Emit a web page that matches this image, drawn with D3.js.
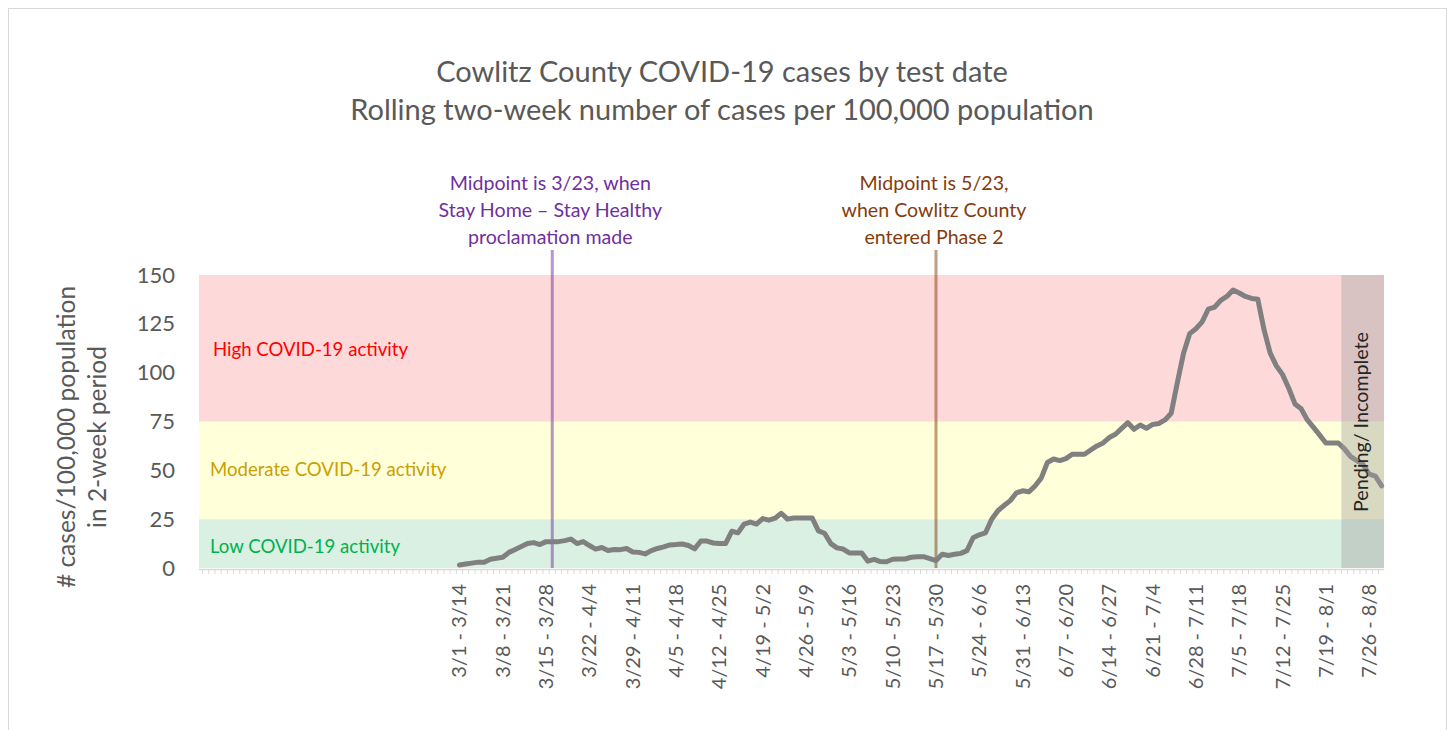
<!DOCTYPE html>
<html>
<head>
<meta charset="utf-8">
<script src="https://cdn.jsdelivr.net/npm/d3@7"></script>
<style>
  body { margin: 0; background: #fff; }
  text { font-family: Lato, "Open Sans", sans-serif; }
</style>
</head>
<body>
<svg id="chart"></svg>
<script>
// daily categories (rolling 14-day windows), labelled once a week
const dayCount = 191;
const firstLabelDay = 41;
const weekLabels = [
  "3/1 - 3/14", "3/8 - 3/21", "3/15 - 3/28", "3/22 - 4/4", "3/29 - 4/11",
  "4/5 - 4/18", "4/12 - 4/25", "4/19 - 5/2", "4/26 - 5/9", "5/3 - 5/16",
  "5/10 - 5/23", "5/17 - 5/30", "5/24 - 6/6", "5/31 - 6/13", "6/7 - 6/20",
  "6/14 - 6/27", "6/21 - 7/4", "6/28 - 7/11", "7/5 - 7/18", "7/12 - 7/25",
  "7/19 - 8/1", "7/26 - 8/8"
];

// cases per 100,000 in 2-week period, one value per day from day 41
const dataStart = 41;
const caseRate = [
  1.5, 2, 2.5, 3, 3, 4.5, 5, 5.5, 8, 9.5,
  11, 12.5, 13, 12, 13.5, 13.5, 13.5, 14, 14.8, 12.5,
  13.5, 11.5, 9.7, 10.5, 9, 9.5, 9.4, 10, 8.2, 8,
  7.2, 8.9, 10, 10.8, 11.8, 12, 12.3, 11.5, 9.8, 13.8,
  13.8, 12.8, 12.5, 12.5, 18.8, 18, 22.5, 23.5, 22.5, 25.3,
  24.5, 25.5, 28, 25, 25.6, 25.6, 25.6, 25.6, 19, 17.8,
  12.5, 10.3, 9.7, 7.7, 7.7, 7.7, 3.5, 4.4, 3.3, 3.2,
  4.5, 4.6, 4.6, 5.5, 5.8, 5.8, 4.8, 3.8, 7, 6.4,
  7, 7.5, 8.9, 15.5, 17, 18, 25, 29.3, 32, 34.5,
  38.5, 39.5, 39, 42, 46, 54, 55.8, 55, 56, 58.2,
  58.2, 58.2, 60.4, 62.5, 64, 66.8, 68.5, 71.5, 74.4, 71,
  73.2, 71.5, 73.5, 74, 75.8, 79.2, 95, 110, 120, 122.5,
  126, 132.5, 133.5, 137, 139, 142.3, 140.8, 139, 138, 137.6,
  122, 110, 103.5, 99, 92, 84, 81.5, 75.8, 72, 68,
  64, 64, 64, 61, 57, 55, 53, 48, 47, 42
];

// activity zones
const zoneBreaks = [0, 25, 75, 150];
const zoneLabels = ["Low COVID-19 activity", "Moderate COVID-19 activity", "High COVID-19 activity"];
const yTicks = [0, 25, 50, 75, 100, 125, 150];

// event markers
const eventDays = [56, 118];
const eventNotes = [
  ["Midpoint is 3/23, when", "Stay Home \u2013 Stay Healthy", "proclamation made"],
  ["Midpoint is 5/23,", "when Cowlitz County", "entered Phase 2"]
];
const pendingFromDay = 183.5;

const width = 1453;
const height = 730;
const plot = { left: 199, right: 1384, top: 275, bottom: 568 };

const svg = d3.select("#chart").attr("width", width).attr("height", height);

// outer border
svg.append("rect")
  .attr("x", 8.5).attr("y", 8.5)
  .attr("width", 1438).attr("height", 730)
  .attr("fill", "none").attr("stroke", "#d9d9d9");

const x = d3.scalePoint().domain(d3.range(dayCount)).range([205.7, 1381.6]);
const step = x.step();
const y = d3.scaleLinear().domain([0, 150]).range([plot.bottom, plot.top]);

const zoneFill = ["#daf0e2", "#ffffd9", "#fdd9d9"];
const zoneText = ["#00b050", "#c9a000", "#ff0000"];

// zone backgrounds
svg.append("g")
  .selectAll("rect")
  .data(d3.range(zoneLabels.length))
  .join("rect")
  .attr("x", plot.left)
  .attr("width", plot.right - plot.left)
  .attr("y", (i) => y(zoneBreaks[i + 1]))
  .attr("height", (i) => y(zoneBreaks[i]) - y(zoneBreaks[i + 1]))
  .attr("fill", (i) => zoneFill[i]);

const labelY = [546, 469, 349];
svg.append("g")
  .selectAll("text")
  .data(d3.range(zoneLabels.length))
  .join("text")
  .attr("x", (i) => (i === 2 ? 213 : 210))
  .attr("y", (i) => labelY[i])
  .attr("dy", "0.35em")
  .style("font-size", "18.6px")
  .style("fill", (i) => zoneText[i])
  .text((i) => zoneLabels[i]);

// x axis with a tick each day
svg.append("line")
  .attr("x1", plot.left).attr("x2", plot.right)
  .attr("y1", plot.bottom + 1.5).attr("y2", plot.bottom + 1.5)
  .attr("stroke", "#d9d9d9").attr("stroke-width", 1.5);

svg.append("g")
  .selectAll("line")
  .data(d3.range(dayCount))
  .join("line")
  .attr("x1", (d) => x(d) - step / 2).attr("x2", (d) => x(d) - step / 2)
  .attr("y1", plot.bottom + 1).attr("y2", plot.bottom + 6)
  .attr("stroke", "#d9d9d9");

svg.append("g")
  .selectAll("text")
  .data(weekLabels)
  .join("text")
  .attr("transform", (d, i) => `translate(${x(firstLabelDay + i * 7)}, ${plot.bottom + 16}) rotate(-90)`)
  .attr("text-anchor", "end")
  .attr("dy", "0.35em")
  .style("font-size", "20px")
  .style("fill", "#595959")
  .text((d) => d);

// y axis
const yAxis = svg.append("g")
  .attr("transform", `translate(${plot.left}, 0)`)
  .call(d3.axisLeft(y).tickValues(yTicks).tickSize(0).tickPadding(24));
yAxis.select(".domain").remove();
yAxis.selectAll("text")
  .style("font-family", "Lato, sans-serif")
  .style("font-size", "22px")
  .style("fill", "#595959");

svg.append("text")
  .attr("transform", "translate(66, 437) rotate(-90)")
  .attr("text-anchor", "middle")
  .style("font-size", "24.5px")
  .style("fill", "#595959")
  .selectAll("tspan")
  .data(["# cases/100,000 population", "in 2-week period"])
  .join("tspan")
  .attr("x", 0)
  .attr("dy", (d, i) => (i === 0 ? "0.35em" : "1.27em"))
  .text((d) => d);

// event lines and notes
const eventColor = ["#7030a0", "#843c0c"];
svg.append("g")
  .selectAll("line")
  .data(eventDays)
  .join("line")
  .attr("x1", (d) => x(d)).attr("x2", (d) => x(d))
  .attr("y1", 250).attr("y2", plot.bottom)
  .attr("stroke", (d, i) => eventColor[i])
  .attr("stroke-opacity", 0.5)
  .attr("stroke-width", 3);

eventNotes.forEach((lines, i) => {
  svg.append("text")
    .attr("text-anchor", "middle")
    .style("font-size", "19.6px")
    .style("fill", eventColor[i])
    .selectAll("tspan")
    .data(lines)
    .join("tspan")
    .attr("x", x(eventDays[i]) - 2)
    .attr("y", (d, j) => 183 + j * 27)
    .attr("dy", "0.35em")
    .text((d) => d);
});

// case line
const line = d3.line()
  .x((d, i) => x(dataStart + i))
  .y((d) => y(d));

svg.append("path")
  .datum(caseRate)
  .attr("d", line)
  .attr("fill", "none")
  .attr("stroke", "#808080")
  .attr("stroke-width", 5)
  .attr("stroke-linejoin", "round")
  .attr("stroke-linecap", "round");

// pending / incomplete overlay
const pendingX = x(Math.floor(pendingFromDay)) + step * (pendingFromDay % 1);
svg.append("rect")
  .attr("x", pendingX)
  .attr("width", plot.right - pendingX)
  .attr("y", y(150))
  .attr("height", y(0) - y(150))
  .attr("fill", "#a0a0a0")
  .attr("fill-opacity", 0.4);

svg.append("text")
  .attr("transform", "translate(1361, 422) rotate(-90)")
  .attr("text-anchor", "middle")
  .attr("dy", "0.35em")
  .style("font-size", "19.7px")
  .style("fill", "#262626")
  .text("Pending/ Incomplete");

// title
svg.append("text")
  .attr("text-anchor", "middle")
  .style("font-size", "29px")
  .style("fill", "#595959")
  .selectAll("tspan")
  .data(["Cowlitz County COVID-19 cases by test date", "Rolling two-week number of cases per 100,000 population"])
  .join("tspan")
  .attr("x", 722)
  .attr("y", (d, i) => 72 + i * 38)
  .attr("dy", "0.35em")
  .text((d) => d);
</script>
</body>
</html>
